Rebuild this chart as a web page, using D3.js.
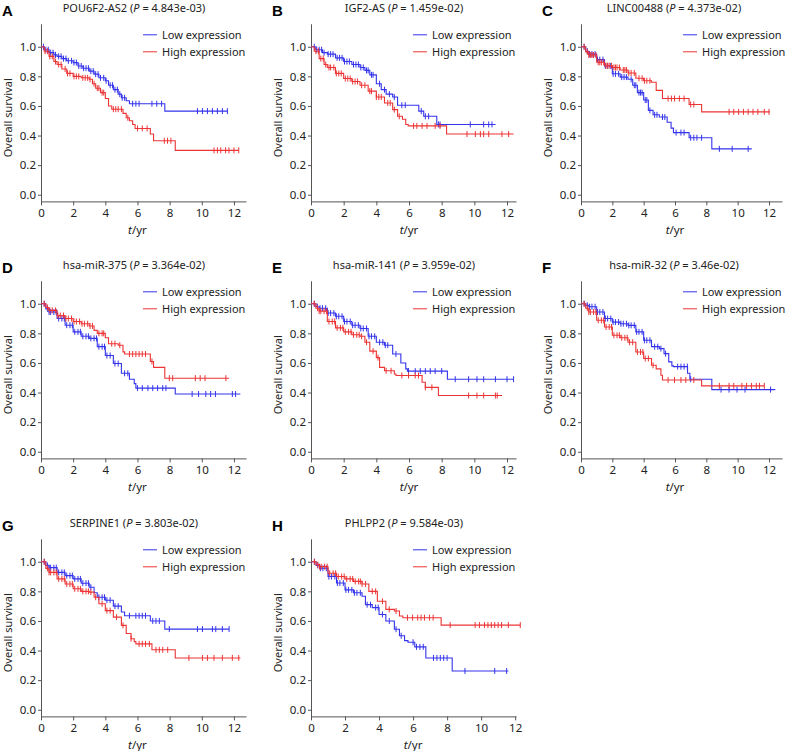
<html>
<head>
<script src="https://cdn.jsdelivr.net/npm/d3@7"></script>
<style>
  body { margin: 0; background: #fff; }
  text { font-family: "Noto Sans", sans-serif; }
</style>
</head>
<body>
<div id="vis"></div>
<script>
// panel info
var letters = ["A", "B", "C", "D", "E", "F", "G", "H"];
var genes = ["POU6F2-AS2", "IGF2-AS", "LINC00488", "hsa-miR-375", "hsa-miR-141", "hsa-miR-32", "SERPINE1", "PHLPP2"];
var pvals = ["4.843e-03", "1.459e-02", "4.373e-02", "3.364e-02", "3.959e-02", "3.46e-02", "3.803e-02", "9.584e-03"];
var xTicks = [0, 2, 4, 6, 8, 10, 12];
var yTicks = [0, 0.2, 0.4, 0.6, 0.8, 1.0];
var legendLabels = ["Low expression", "High expression"];

// Kaplan-Meier steps [time, survival] and censored times
var lowA = [[0,1],[0.2,0.98],[0.5,0.96],[0.8,0.945],[1,0.935],[1.3,0.92],[1.6,0.905],[2,0.893],[2.3,0.87],[2.6,0.855],[3,0.835],[3.3,0.815],[3.6,0.79],[4,0.77],[4.2,0.74],[4.5,0.71],[4.8,0.68],[5,0.655],[5.3,0.635],[5.5,0.615],[7.7,0.565],[11.6,0.565]];
var lowA_c = [0.15,0.3,0.45,0.6,0.75,0.9,1.1,1.25,1.4,1.55,1.7,1.9,2.05,2.2,2.35,2.5,2.65,2.8,2.95,3.1,3.25,3.4,3.55,3.7,3.9,4.05,4.3,4.45,4.6,4.75,4.9,5.05,5.2,5.7,5.9,6.1,6.9,7.2,7.5,9.73,10.04,10.35,10.66,10.97,11.28,11.59];
var highA = [[0,1],[0.2,0.97],[0.5,0.935],[0.8,0.9],[1,0.88],[1.3,0.85],[1.6,0.82],[2,0.8],[2.5,0.79],[3,0.78],[3.2,0.75],[3.4,0.72],[3.7,0.69],[4,0.65],[4.2,0.6],[4.4,0.578],[5.1,0.55],[5.3,0.52],[5.5,0.5],[5.7,0.475],[5.85,0.448],[6.8,0.41],[7.0,0.365],[8.35,0.3],[12.3,0.3]];
var highA_c = [0.25,0.4,0.55,0.7,0.9,1.1,1.25,1.5,1.65,1.8,2.05,2.2,2.35,2.6,2.75,2.9,3.05,3.3,3.5,3.6,3.8,3.9,4.5,4.65,4.8,5.0,5.4,6.0,6.3,6.6,7.67,7.87,8.08,10.76,10.97,11.18,11.48,11.69,12.0,12.3];

var lowB = [[0,1],[0.3,0.98],[0.7,0.96],[1,0.95],[1.5,0.925],[2,0.9],[2.5,0.88],[3,0.86],[3.3,0.84],[3.6,0.81],[4,0.75],[4.3,0.71],[4.6,0.68],[5,0.66],[5.3,0.605],[6.6,0.565],[6.9,0.53],[7.7,0.475],[11.3,0.475]];
var lowB_c = [0.2,0.35,0.5,0.65,0.8,1.05,1.2,1.35,1.6,1.75,1.9,2.05,2.2,2.35,2.6,2.75,2.9,3.05,3.2,3.4,3.5,3.7,3.8,4.2,4.5,4.8,5.1,5.56,5.77,6.75,7.0,7.2,7.8,7.9,9.75,10.57,10.88,11.08];
var highB = [[0,1],[0.2,0.97],[0.5,0.92],[0.8,0.88],[1,0.86],[1.5,0.82],[2,0.785],[2.5,0.765],[3,0.74],[3.5,0.7],[4,0.66],[4.5,0.62],[5,0.575],[5.3,0.53],[5.6,0.51],[5.8,0.475],[5.95,0.465],[8.3,0.41],[12.4,0.41]];
var highB_c = [0.3,0.45,0.6,0.75,0.9,1.1,1.2,1.4,1.55,1.7,1.85,2.1,2.25,2.4,2.55,2.7,2.85,3.1,3.3,3.6,3.7,4.0,4.15,4.3,4.7,4.85,5.1,5.4,6.28,6.48,6.8,7.1,7.6,7.9,9.55,10.06,10.37,10.57,10.88,11.69,12.1];

var lowC = [[0,1],[0.3,0.97],[0.5,0.95],[1,0.913],[1.5,0.87],[2,0.817],[2.5,0.795],[3,0.78],[3.3,0.74],[3.6,0.69],[4,0.64],[4.3,0.57],[4.6,0.54],[5,0.525],[5.5,0.49],[5.75,0.45],[5.9,0.42],[6.9,0.385],[8.35,0.31],[10.9,0.31]];
var lowC_c = [0.2,0.4,0.55,0.7,0.9,1.05,1.2,1.4,1.55,1.7,1.9,2.05,2.2,2.4,2.6,2.75,2.9,3.2,3.4,3.5,3.7,3.8,3.9,4.1,4.2,4.4,4.7,4.85,5.2,5.35,6.07,6.38,6.58,7.0,7.2,7.4,7.7,8.83,9.65,10.67];
var highC = [[0,1],[0.3,0.965],[0.5,0.944],[1,0.895],[1.5,0.872],[2,0.86],[2.5,0.843],[3,0.823],[3.5,0.787],[4,0.77],[4.5,0.76],[4.8,0.705],[5.2,0.65],[6.9,0.61],[7.7,0.56],[12.05,0.56]];
var highC_c = [0.2,0.4,0.5,0.6,0.7,0.8,0.95,1.1,1.2,1.3,1.45,1.6,1.7,1.8,1.95,2.1,2.2,2.3,2.45,2.7,2.8,2.9,3.05,3.2,3.4,3.7,3.9,4.05,4.2,4.4,5.56,5.77,5.97,6.28,6.58,7.0,7.2,9.45,9.75,10.06,10.37,10.67,10.98,11.29,11.7,12.0];

var lowD = [[0,1],[0.3,0.965],[0.5,0.944],[1,0.9],[1.5,0.855],[2,0.81],[2.5,0.78],[3,0.766],[3.5,0.71],[4,0.65],[4.5,0.596],[5,0.53],[5.5,0.49],[5.8,0.46],[5.9,0.43],[8.35,0.39],[12.4,0.39]];
var lowD_c = [0.2,0.4,0.5,0.6,0.8,0.95,1.1,1.3,1.45,1.6,1.8,1.95,2.1,2.3,2.45,2.6,2.8,2.95,3.1,3.3,3.45,3.6,3.8,3.95,4.1,4.3,4.6,4.8,5.2,5.4,6.0,6.3,6.65,6.95,7.25,7.57,7.77,9.4,9.8,10.25,10.55,10.85,11.9,12.1];
var highD = [[0,1],[0.3,0.975],[0.5,0.955],[1,0.92],[1.5,0.9],[2,0.88],[2.5,0.865],[3,0.85],[3.3,0.82],[3.5,0.8],[4,0.77],[4.2,0.73],[4.8,0.72],[5.1,0.675],[5.2,0.66],[6.8,0.61],[7.0,0.57],[7.7,0.497],[11.7,0.497]];
var highD_c = [0.2,0.4,0.55,0.7,0.9,1.05,1.2,1.4,1.55,1.7,1.9,2.05,2.2,2.4,2.55,2.7,2.9,3.05,3.2,3.6,3.8,3.9,4.4,4.6,4.9,5.5,5.7,5.9,6.1,6.3,6.5,6.9,7.98,8.19,9.6,9.9,10.2,11.5];

var lowE = [[0,1],[0.3,0.98],[0.5,0.97],[1,0.937],[1.5,0.915],[2,0.88],[2.5,0.855],[3,0.833],[3.5,0.78],[4,0.74],[4.5,0.72],[5,0.66],[5.5,0.6],[5.8,0.56],[5.9,0.545],[8.35,0.49],[12.4,0.49]];
var lowE_c = [0.2,0.4,0.55,0.7,0.9,1.05,1.2,1.4,1.55,1.7,1.9,2.05,2.2,2.4,2.55,2.7,2.9,3.05,3.2,3.4,3.55,3.7,3.9,4.2,4.4,4.55,4.7,5.2,5.97,6.38,6.69,7.0,7.3,7.6,8.0,8.83,9.65,10.16,10.57,11.29,12.0,12.4];
var highE = [[0,1],[0.3,0.97],[0.5,0.95],[1,0.88],[1.5,0.837],[2,0.81],[2.5,0.79],[3,0.78],[3.3,0.74],[3.6,0.68],[4,0.636],[4.2,0.57],[4.5,0.547],[5.1,0.525],[5.2,0.515],[6.8,0.47],[7.0,0.435],[7.8,0.38],[11.7,0.38]];
var highE_c = [0.2,0.4,0.5,0.6,0.8,0.95,1.1,1.3,1.45,1.6,1.8,1.95,2.1,2.3,2.45,2.6,2.8,2.95,3.1,3.4,3.8,4.1,4.6,4.9,5.56,5.97,6.38,6.58,7.0,7.4,9.65,10.16,10.57,11.29,11.4];

var lowF = [[0,1],[0.3,0.99],[0.5,0.98],[1,0.944],[1.5,0.9],[2,0.876],[2.5,0.865],[3,0.854],[3.5,0.81],[4,0.753],[4.5,0.71],[5,0.697],[5.3,0.663],[5.6,0.607],[5.8,0.58],[5.9,0.575],[6.8,0.53],[6.95,0.49],[8.35,0.42],[12.4,0.42]];
var lowF_c = [0.2,0.4,0.55,0.7,0.9,1.05,1.2,1.4,1.55,1.7,1.9,2.05,2.2,2.4,2.55,2.7,2.9,3.05,3.2,3.4,3.55,3.7,3.9,4.05,4.2,4.4,4.7,4.9,5.1,5.4,6.17,6.38,6.58,6.79,7.0,8.94,9.45,9.96,10.47,12.1];
var highF = [[0,1],[0.3,0.97],[0.5,0.944],[1,0.888],[1.5,0.843],[2,0.787],[2.5,0.77],[3,0.74],[3.5,0.674],[4,0.63],[4.5,0.584],[4.8,0.56],[5.1,0.517],[5.2,0.485],[7.7,0.445],[11.7,0.445]];
var highF_c = [0.2,0.4,0.5,0.6,0.8,0.95,1.1,1.3,1.45,1.6,1.8,1.95,2.1,2.3,2.45,2.6,2.8,2.95,3.1,3.3,3.6,3.8,3.95,4.1,4.3,4.6,5.56,5.97,6.38,6.69,7.2,8.83,9.45,9.75,10.27,10.57,10.88,11.19,11.39,11.7];

var lowG = [[0,1],[0.3,0.975],[0.5,0.96],[1,0.928],[1.5,0.906],[2,0.884],[2.5,0.855],[3,0.828],[3.3,0.79],[3.5,0.76],[4,0.74],[4.5,0.7],[5,0.66],[5.2,0.635],[6.8,0.6],[7.7,0.545],[11.7,0.545]];
var lowG_c = [0.2,0.4,0.5,0.6,0.8,0.95,1.1,1.3,1.45,1.6,1.8,1.95,2.1,2.3,2.45,2.6,2.8,2.95,3.1,3.6,3.8,3.95,4.1,4.3,4.6,4.8,5.5,5.9,6.1,6.3,6.5,6.95,7.15,7.36,7.98,9.73,10.04,10.66,10.87,11.28,11.7];
var highG = [[0,1],[0.3,0.955],[0.5,0.928],[1,0.884],[1.5,0.85],[2,0.817],[2.5,0.8],[3,0.795],[3.3,0.76],[3.6,0.716],[4,0.67],[4.5,0.626],[5,0.57],[5.3,0.515],[5.6,0.48],[5.8,0.46],[5.9,0.445],[6.9,0.405],[8.35,0.35],[12.4,0.35]];
var highG_c = [0.2,0.4,0.5,0.6,0.8,0.95,1.1,1.3,1.45,1.6,1.8,1.95,2.1,2.3,2.45,2.6,2.8,2.95,3.1,3.4,3.8,4.1,4.3,4.7,5.1,5.6,6.1,6.3,6.5,6.74,7.15,7.36,7.57,7.88,9.2,10.04,10.35,10.76,11.28,11.9,12.3];

var lowH = [[0,1],[0.3,0.975],[0.5,0.956],[1,0.9],[1.5,0.856],[2,0.81],[2.5,0.79],[3,0.767],[3.2,0.71],[3.6,0.69],[4,0.644],[4.4,0.6],[4.9,0.544],[5.2,0.5],[5.5,0.467],[5.7,0.456],[6.1,0.425],[6.75,0.35],[8.3,0.262],[11.6,0.262]];
var lowH_c = [0.2,0.4,0.55,0.7,0.9,1.05,1.2,1.4,1.55,1.7,1.9,2.05,2.2,2.4,2.55,2.7,2.9,3.3,3.5,3.8,3.95,4.2,4.6,5.0,5.3,6.0,6.2,6.4,6.6,7.2,7.4,7.6,7.8,8.0,9.05,10.8,11.5];
var highH = [[0,1],[0.3,0.98],[0.5,0.967],[1,0.922],[1.5,0.9],[2,0.884],[2.5,0.867],[3,0.85],[3.4,0.8],[3.9,0.733],[4.4,0.678],[4.9,0.667],[5.2,0.633],[5.4,0.622],[7.65,0.572],[12.3,0.572]];
var highH_c = [0.2,0.4,0.5,0.6,0.8,0.95,1.1,1.3,1.45,1.6,1.8,1.95,2.1,2.3,2.45,2.6,2.8,2.9,3.0,3.2,3.6,3.8,4.2,4.6,5.0,5.67,5.97,6.27,6.47,6.67,6.97,7.18,8.18,9.65,9.9,10.2,10.4,10.6,10.8,11.0,11.2,11.6,12.3];

var lows = [lowA, lowB, lowC, lowD, lowE, lowF, lowG, lowH];
var lowsC = [lowA_c, lowB_c, lowC_c, lowD_c, lowE_c, lowF_c, lowG_c, lowH_c];
var highs = [highA, highB, highC, highD, highE, highF, highG, highH];
var highsC = [highA_c, highB_c, highC_c, highD_c, highE_c, highF_c, highG_c, highH_c];

// layout
var colX = [41, 311, 581];
var rowY = [23.8, 280.8, 538.8];
var xMax = [12.75, 12.55, 12.83, 12.75, 12.55, 12.83, 12.75, 12.05];
var plotW = [205, 205, 201, 205, 205, 201, 205, 205];
var plotH = 177.6;
var blue = "#3434ec", red = "#ec3434";

var svg = d3.select("#vis")
    .append("svg")
    .attr("width", 786)
    .attr("height", 751);

var bis = d3.bisector(function (d) { return d[0]; }).right;

letters.forEach(function (letter, i) {
    var g = svg.append("g")
        .attr("transform", "translate(" + colX[i % 3] + "," + rowY[Math.floor(i / 3)] + ")");

    var x = d3.scaleLinear().domain([0, xMax[i]]).range([0, plotW[i]]);
    var y = d3.scaleLinear().domain([-0.045, 1.155]).range([plotH, 0]);

    // axes
    var xa = g.append("g")
        .attr("transform", "translate(0," + plotH + ")")
        .call(d3.axisBottom(x).tickValues(xTicks).tickSize(4).tickSizeOuter(0).tickPadding(3));
    var ya = g.append("g")
        .call(d3.axisLeft(y).tickValues(yTicks).tickFormat(d3.format(".1f")).tickSize(3).tickSizeOuter(0).tickPadding(2));
    [xa, ya].forEach(function (a) {
        a.selectAll("path, line").attr("stroke", "#555");
        a.selectAll("text").style("font-size", "11.5px").attr("fill", "#222");
    });

    // title and panel letter
    var t = g.append("text")
        .attr("x", 93).attr("y", -12)
        .attr("text-anchor", "middle")
        .style("font-size", "11px").attr("fill", "#222");
    t.append("tspan").text(genes[i] + " (");
    t.append("tspan").style("font-style", "italic").text("P");
    t.append("tspan").text(" = " + pvals[i] + ")");

    g.append("text")
        .attr("x", -39).attr("y", -8)
        .style("font-family", "Liberation Sans, Arial, sans-serif")
        .style("font-weight", "bold")
        .style("font-size", "15px")
        .text(letter);

    // axis labels
    g.append("text")
        .attr("transform", "rotate(-90)")
        .attr("x", -(y(0.5) - 3)).attr("y", -33)
        .attr("dy", "0.35em")
        .attr("text-anchor", "middle")
        .style("font-size", "11px").attr("fill", "#222")
        .text("Overall survival");

    var xl = g.append("text")
        .attr("x", x(6)).attr("y", plotH + 33)
        .attr("text-anchor", "middle")
        .style("font-size", "11.5px").attr("fill", "#222");
    xl.append("tspan").style("font-style", "italic").text("t");
    xl.append("tspan").text("/yr");

    // curves
    var line = d3.line()
        .x(function (d) { return x(d[0]); })
        .y(function (d) { return y(d[1]); })
        .curve(d3.curveStepAfter);

    [[lows[i], lowsC[i], blue], [highs[i], highsC[i], red]].forEach(function (s) {
        var steps = s[0], cens = s[1], col = s[2];
        g.append("path")
            .datum(steps)
            .attr("fill", "none")
            .attr("stroke", col)
            .attr("stroke-width", 1.1)
            .attr("d", line);
        g.append("g")
            .selectAll("line")
            .data(cens)
            .enter()
            .append("line")
            .attr("x1", function (d) { return x(d); })
            .attr("x2", function (d) { return x(d); })
            .attr("y1", function (d) { return y(steps[bis(steps, d) - 1][1]) - 3; })
            .attr("y2", function (d) { return y(steps[bis(steps, d) - 1][1]) + 3; })
            .attr("stroke", col)
            .attr("stroke-width", 1);
    });

    // legend
    [blue, red].forEach(function (col, k) {
        var ly = 11 + k * 17;
        g.append("line")
            .attr("x1", 102).attr("x2", 116)
            .attr("y1", ly).attr("y2", ly)
            .attr("stroke", col).attr("stroke-width", 1);
        g.append("text")
            .attr("x", 121).attr("y", ly)
            .attr("dy", "0.35em")
            .style("font-size", "11px").attr("fill", "#222")
            .text(legendLabels[k]);
    });
});
</script>
</body>
</html>
